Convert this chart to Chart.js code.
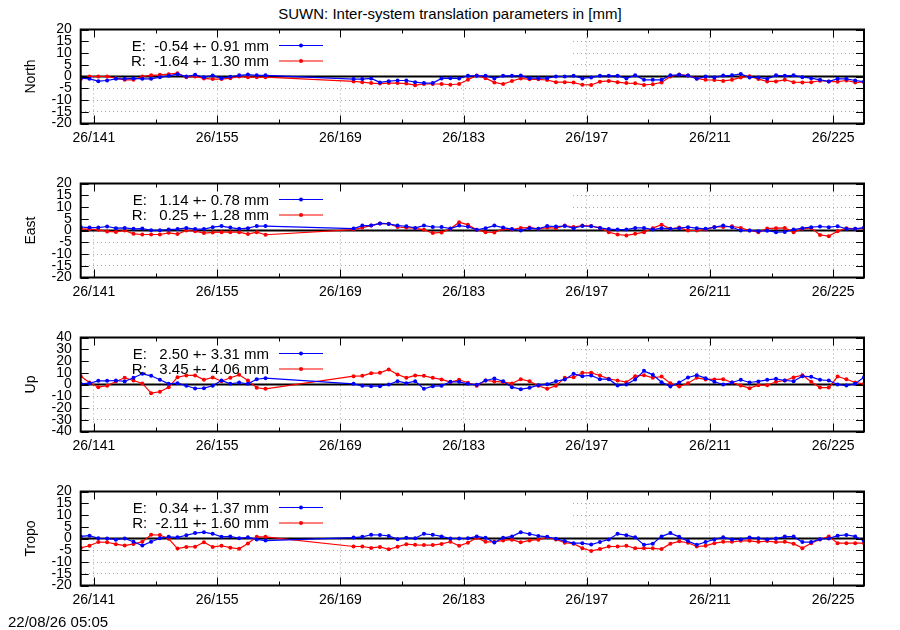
<!DOCTYPE html>
<html lang="en">
<head>
<meta charset="utf-8">
<title>SUWN: Inter-system translation parameters</title>
<script src="https://cdn.jsdelivr.net/npm/chart.js@4.4.1/dist/chart.umd.min.js"></script>
<style>
  html, body { margin: 0; padding: 0; background: #fff; }
  body { width: 900px; height: 630px; position: relative; overflow: hidden;
         font-family: 'Liberation Sans', Arial, sans-serif; color: #000; }
  .titulo { position: absolute; top: 5px; left: 0; width: 900px; text-align: center;
            font-size: 15px; line-height: 18px; }
  .panel { position: absolute; left: 0; width: 900px; height: 154px; }
  .stamp { position: absolute; left: 8px; top: 613px; font-size: 15px; line-height: 18px; }
</style>
</head>
<body>
<div class="titulo">SUWN: Inter-system translation parameters in [mm]</div>
<canvas class="panel" id="pNorth" width="900" height="154" style="top:0px"></canvas>
<canvas class="panel" id="pEast" width="900" height="154" style="top:154px"></canvas>
<canvas class="panel" id="pUp" width="900" height="154" style="top:307.5px"></canvas>
<canvas class="panel" id="pTropo" width="900" height="154" style="top:461.5px"></canvas>
<div class="stamp">22/08/26 05:05</div>

<script>
// ── DADOS (dia do ano, 2026) ──
const days = [
  139.5, 140.5, 141.5, 142.5, 143.5, 144.5, 145.5, 146.5, 147.5, 148.5, 149.5,
  150.5, 151.5, 152.5, 153.5, 154.5, 155.5, 156.5, 157.5, 158.5, 159.5, 160.5,
  170.5, 171.5, 172.5, 173.5, 174.5, 175.5, 176.5, 177.5, 178.5, 179.5,
  180.5, 181.5, 182.5, 183.5, 184.5, 185.5, 186.5, 187.5, 188.5, 189.5,
  190.5, 191.5, 192.5, 193.5, 194.5, 195.5, 196.5, 197.5, 198.5, 199.5,
  200.5, 201.5, 202.5, 203.5, 204.5, 205.5, 206.5, 207.5, 208.5, 209.5,
  210.5, 211.5, 212.5, 213.5, 214.5, 215.5, 216.5, 217.5, 218.5, 219.5,
  220.5, 221.5, 222.5, 223.5, 224.5, 225.5, 226.5, 227.5, 228.5
];
const xTickDays = [141, 155, 169, 183, 197, 211, 225];
const xTickLabels = ['26/141', '26/155', '26/169', '26/183', '26/197', '26/211', '26/225'];
const xMinorDays = [148, 162, 176, 190, 204, 218];

const panelNames = ['North', 'East', 'Up', 'Tropo'];
const yLimits = [20, 20, 40, 20];
const yStepSizes = [5, 5, 10, 5];

const northE = [
  -0.7, -1.0, -2.0, -1.7, -1.0, -1.0, -0.8, -1.0, -1.0, -0.3, 0.3, 1.0, 0.0, 0.7, -0.3, 0.4, -0.7, -0.1, 0.5, 0.8, 0.5, 0.5,
  -1.1, -1.1, -0.8, -2.5, -2.0, -1.7, -1.7, -2.4, -2.8, -2.8, -0.8, -0.7, -0.8, 0.3,
  0.3, 0.3, -0.8, 0.3, 0.3, 0.4, -0.7, -0.7, -0.7, 0.0,
  0.0, 0.3, -0.8, -0.4, 0.3, 0.3, 0.3, -0.8, 0.5, -1.4,
  -1.4, -1.4, 0.5, 0.7, 0.4, -1.0, 0.0, -0.4, 0.4, 0.5,
  1.1, -0.4, -0.4, -1.0, 0.5, 0.3, 0.5, -0.3, -0.7, -1.4,
  -2.1, -1.0, -1.0, -1.7, -2.2
];
const northR = [
  -1.1, 0.0, 0.0, 0.0, -0.7, -1.4, -1.4, 0.0, 0.5, 0.7, 1.0, 1.4, -0.3, 0.0, -0.8, -1.1, -1.1, -0.7, 0.0, -0.3, -0.3, -0.3,
  -2.1, -2.4, -2.8, -3.0, -2.8, -2.8, -3.0, -3.7, -3.2, -3.2, -3.2, -3.5, -3.2, -1.4,
  0.4, -0.7, -2.5, -3.2, -1.9, -0.8, -1.2, -1.2, -1.5, -2.4,
  -2.4, -2.6, -3.5, -3.6, -2.2, -1.9, -2.4, -2.8, -2.9, -3.6,
  -3.3, -2.5, 0.0, 0.8, 0.4, -0.8, -1.4, -1.5, -1.9, -1.4,
  -0.4, 0.1, -1.1, -2.1, -2.1, -1.4, -2.4, -2.5, -2.4, -1.8,
  -2.1, -2.2, -1.7, -2.5, -2.4
];
const eastE = [
  1.5, 1.25, 1.25, 1.7, 1.0, 1.1, 0.7, 0.8, 0.1, 0.1, 0.4, 0.6, 1.1, 0.6, 0.6, 1.4, 1.9, 1.25, 0.7, 1.0, 1.9, 1.9,
  0.8, 2.1, 2.1, 3.0, 2.8, 2.1, 1.8, 1.1, 2.1, 1.5, 1.5, 0.8, 2.1, 1.6,
  0.3, 1.0, 2.1, 1.25, 0.6, 0.0, 1.0, 0.7, 1.9, 1.7,
  1.9, 1.0, 1.9, 1.8, 1.1, 0.6, 0.4, 0.4, 1.1, 1.1,
  0.4, 1.0, 0.7, 1.0, 1.4, 1.0, 0.7, 1.4, 2.1, 1.4,
  0.0, 0.0, -0.3, -0.1, -0.7, -0.6, 0.4, 1.0, 1.4, 1.7,
  1.4, 1.8, 0.7, 0.7, 1.25
];
const eastR = [
  0.7, 0.6, 0.3, -0.4, -0.6, 0.0, -1.4, -1.7, -1.7, -1.7, -1.0, -1.5, 0.0, -0.3, -1.1, -0.8, -0.7, -0.7, -0.7, -1.5, -0.7, -1.8,
  0.4, 1.25, 2.1, 3.0, 2.9, 1.5, 1.25, 1.0, 0.3, -1.1, -0.8, 0.7, 3.5, 2.4,
  0.3, -0.7, -0.8, 0.7, 0.4, 1.1, 1.25, 0.7, 1.25, 1.0,
  2.1, 1.5, 2.1, 1.9, 1.1, -0.7, -1.7, -2.1, -1.4, -0.7,
  1.0, 2.5, 0.7, 1.25, 0.0, 0.0, 0.4, 1.5, 1.5, 1.8,
  1.1, 0.0, -0.7, 0.8, 1.0, 1.1, -0.7, 0.7, 1.1, -1.9,
  -2.4, -0.3, 1.0, 0.7, 1.0
];
const upE = [
  0.6, 1.1, 3.1, 3.1, 3.4, 2.6, 5.7, 9.1, 7.4, 4.0, 0.6, 1.1, -1.1, -3.4, -3.1, -1.1, 3.4, 0.6, 1.7, 0.6, 4.5, 5.4,
  0.6, -1.1, -1.4, -1.4, 0.0, 2.8, 1.1, 2.8, -3.7, -1.4, -1.1, 2.3, 2.3, 0.6,
  -0.3, 3.4, 5.1, 2.8, -2.3, -4.0, -2.8, -0.6, 0.3, 2.8,
  4.3, 9.1, 7.1, 7.7, 4.5, 4.5, -0.9, 0.0, 4.3, 11.6,
  8.2, 2.0, -1.7, 1.7, 6.0, 7.9, 5.4, 2.3, 0.0, 1.7,
  4.0, 1.7, 2.6, 4.0, 4.8, 3.4, 2.8, 7.1, 6.5, 4.0,
  3.4, 0.0, -0.9, 0.6, 6.2
];
const upR = [
  7.1, 1.7, -2.3, -1.1, 2.6, 5.7, 3.4, 0.9, -7.4, -6.2, -2.3, 6.2, 7.7, 7.7, 4.0, 6.0, 2.8, 5.7, 8.2, 3.4, -2.8, -3.7,
  7.1, 7.4, 9.6, 9.9, 12.8, 8.5, 5.7, 7.7, 7.4, 5.7, 4.3, 2.0, 4.0, 1.5,
  -1.1, 3.4, 2.6, 2.0, 0.9, 4.5, 2.8, -1.1, -3.7, -1.1,
  5.7, 6.2, 9.9, 9.9, 7.7, 4.8, 3.4, 2.0, 7.1, 7.9,
  5.7, 6.8, 1.1, -1.7, 1.1, 5.7, 4.3, 4.3, 4.5, 1.7,
  -0.9, -3.1, -0.6, -0.6, 2.3, 3.4, 6.0, 7.9, 2.3, -2.6,
  -2.6, 6.8, 4.5, 1.7, 0.6
];
const tropoE = [
  0.9, 1.2, 0.1, 0.0, -0.5, 0.0, -1.4, -3.0, -1.4, 0.1, 0.7, 0.5, 1.4, 2.3, 2.7, 2.0, 0.7, 0.9, 0.1, 0.5, -0.4, -0.9,
  0.4, 0.7, 1.6, 1.5, 1.1, -0.3, 0.3, 0.1, 2.0, 1.6, 0.9, 0.0, 0.0, 0.1,
  0.9, 0.3, -1.7, 0.3, 0.9, 2.7, 1.9, 1.1, 0.7, -0.1,
  -1.1, -2.0, -2.0, -2.6, -1.5, -0.4, 2.0, 1.4, 0.5, -2.7,
  -2.2, 0.9, 2.3, 0.7, -1.1, -2.7, -1.5, -0.4, 0.5, -0.4,
  -0.4, 0.4, 0.1, -0.4, 0.0, 0.8, 0.8, -1.5, -1.5, -0.3,
  0.0, 1.2, 1.5, 0.9, -1.1
];
const tropoR = [
  -4.0, -3.1, -1.5, -1.6, -2.4, -3.0, -2.3, -1.4, 1.6, 1.5, -0.1, -4.3, -3.6, -3.5, -1.6, -3.6, -3.1, -3.9, -4.4, -2.1, 0.7, 0.7,
  -3.4, -3.4, -4.0, -3.6, -4.6, -3.5, -2.4, -2.7, -2.8, -2.8, -2.3, -1.4, -3.1, -1.8,
  0.3, -1.4, -1.4, -0.8, -0.5, -1.6, -0.8, -0.5, 0.5, -0.4,
  -1.8, -2.2, -4.1, -5.3, -4.5, -3.4, -3.4, -3.1, -4.2, -4.1,
  -4.2, -4.5, -2.2, -1.2, -1.8, -3.4, -3.1, -2.0, -1.4, -1.4,
  -1.0, -1.0, -1.4, -1.1, -1.5, -1.4, -2.2, -4.1, -2.0, -0.4,
  0.9, -2.0, -2.0, -2.0, -2.0
];

const seriesE = [northE, eastE, upE, tropoE];
const seriesR = [northR, eastR, upR, tropoR];
const keyE = ['E:  -0.54 +- 0.91 mm', 'E:   1.14 +- 0.78 mm', 'E:   2.50 +- 3.31 mm', 'E:   0.34 +- 1.37 mm'];
const keyR = ['R:  -1.64 +- 1.30 mm', 'R:   0.25 +- 1.28 mm', 'R:   3.45 +- 4.06 mm', 'R:  -2.11 +- 1.60 mm'];

const COR_E = '#0000ff';
const COR_R = '#ff0000';

Chart.defaults.font.family = "'Liberation Sans', Arial, sans-serif";
Chart.defaults.font.size = 14;
Chart.defaults.color = '#000';

/**
 * Moldura estilo gnuplot: caixa da legenda opaca, linha do zero,
 * marcas internas dos eixos, borda e a própria legenda.
 */
const molduraGnuplot = {
  id: 'molduraGnuplot',
  beforeDatasetsDraw(chart) {
    const { ctx, chartArea: a, scales: { y } } = chart;
    const y0 = y.getPixelForValue(0);
    ctx.save();
    // caixa da legenda apaga a grade no canto superior esquerdo
    ctx.fillStyle = '#fff';
    ctx.fillRect(a.left, a.top, 573 - a.left, y0 - a.top - 1);
    // linha do zero
    ctx.strokeStyle = '#000';
    ctx.lineWidth = 2;
    ctx.beginPath();
    ctx.moveTo(a.left, y0);
    ctx.lineTo(a.right, y0);
    ctx.stroke();
    ctx.restore();
  },
  afterDatasetsDraw(chart, args, opts) {
    const { ctx, chartArea: a, scales: { x, y } } = chart;
    ctx.save();
    ctx.strokeStyle = '#000';
    ctx.lineWidth = 1;

    // marcas do eixo Y (esquerda e espelhadas na direita)
    ctx.beginPath();
    y.ticks.forEach(t => {
      const py = Math.round(y.getPixelForValue(t.value)) + 0.5;
      ctx.moveTo(a.left, py); ctx.lineTo(a.left + 8, py);
      ctx.moveTo(a.right - 8, py); ctx.lineTo(a.right, py);
    });
    // marcas do eixo X, maiores e menores, embaixo e em cima
    xTickDays.forEach(d => {
      const px = Math.round(x.getPixelForValue(d)) + 0.5;
      ctx.moveTo(px, a.bottom); ctx.lineTo(px, a.bottom - 8);
      ctx.moveTo(px, a.top); ctx.lineTo(px, a.top + 8);
    });
    xMinorDays.forEach(d => {
      const px = Math.round(x.getPixelForValue(d)) + 0.5;
      ctx.moveTo(px, a.bottom); ctx.lineTo(px, a.bottom - 4);
      ctx.moveTo(px, a.top); ctx.lineTo(px, a.top + 4);
    });
    ctx.stroke();

    // borda
    ctx.lineWidth = 2;
    ctx.strokeRect(a.left, a.top, a.right - a.left, a.bottom - a.top);

    // legenda: texto alinhado à direita e amostra da linha com ponto
    ctx.font = "15px 'Liberation Sans', Arial, sans-serif";
    ctx.textAlign = 'right';
    ctx.textBaseline = 'middle';
    (opts.entries || []).forEach((e, i) => {
      const ly = a.top + 16 + i * 15.5;
      ctx.fillStyle = '#000';
      ctx.fillText(e.text, 269, ly + 1);
      ctx.strokeStyle = e.color;
      ctx.lineWidth = 1.2;
      ctx.beginPath();
      ctx.moveTo(279, ly); ctx.lineTo(323, ly);
      ctx.stroke();
      ctx.fillStyle = e.color;
      ctx.beginPath();
      ctx.arc(301, ly, 2, 0, Math.PI * 2);
      ctx.fill();
    });
    ctx.restore();
  }
};

function montarSerie(valores, cor) {
  return {
    data: days.map((d, i) => ({ x: d, y: valores[i] })),
    borderColor: cor,
    backgroundColor: cor,
    borderWidth: 1.2,
    pointRadius: 2,
    pointBorderWidth: 0,
    tension: 0
  };
}

function criarPainel(canvasId, idx) {
  const lim = yLimits[idx];
  return new Chart(document.getElementById(canvasId), {
    type: 'line',
    data: {
      datasets: [montarSerie(seriesE[idx], COR_E), montarSerie(seriesR[idx], COR_R)]
    },
    plugins: [molduraGnuplot],
    options: {
      responsive: false,
      animation: false,
      events: [],
      layout: { padding: { top: 29.5, right: 36, bottom: 0, left: 0 } },
      plugins: {
        legend: { display: false },
        tooltip: { enabled: false },
        molduraGnuplot: {
          entries: [
            { text: keyE[idx], color: COR_E },
            { text: keyR[idx], color: COR_R }
          ]
        }
      },
      scales: {
        x: {
          type: 'linear',
          min: 139.5,
          max: 228.5,
          afterBuildTicks: s => { s.ticks = xTickDays.map(v => ({ value: v })); },
          afterFit: s => { s.height = 30.5; },
          ticks: {
            autoSkip: false,
            maxRotation: 0,
            padding: 6,
            callback: v => xTickLabels[xTickDays.indexOf(v)]
          },
          grid: { color: '#a8a8a8', lineWidth: 1, drawTicks: false },
          border: { display: false, dash: [1, 3] }
        },
        y: {
          min: -lim,
          max: lim,
          afterFit: s => { s.width = 80.7; },
          ticks: { stepSize: yStepSizes[idx], autoSkip: false, padding: 9 },
          grid: {
            drawTicks: false,
            lineWidth: 1,
            color: c => (c.tick && c.tick.value === 0) ? 'rgba(0,0,0,0)' : '#a8a8a8'
          },
          border: { display: false, dash: [1, 3] },
          title: {
            display: true,
            text: panelNames[idx],
            font: { size: 14 },
            padding: { top: 23, bottom: 0 }
          }
        }
      }
    }
  });
}

document.addEventListener('DOMContentLoaded', () => {
  criarPainel('pNorth', 0);
  criarPainel('pEast', 1);
  criarPainel('pUp', 2);
  criarPainel('pTropo', 3);
});
</script>
</body>
</html>
